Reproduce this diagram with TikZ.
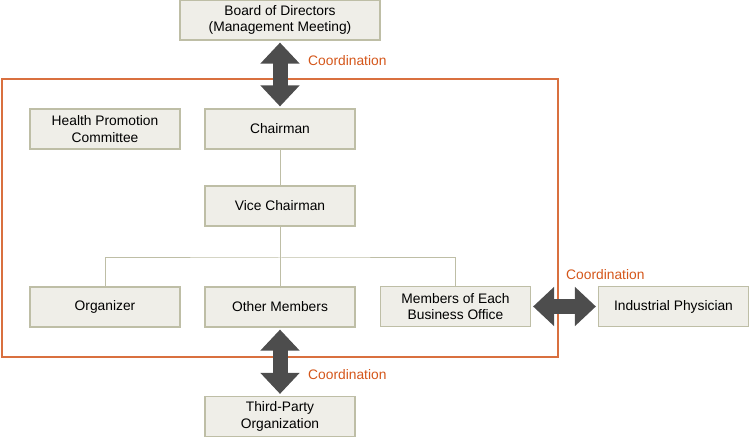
\documentclass[tikz,border=0pt]{standalone}
\usepackage{fontspec}
\setmainfont{Liberation Sans}
\usetikzlibrary{arrows.meta}
\definecolor{boxfill}{HTML}{EFEEE8}
\definecolor{boxline}{HTML}{BEBEA6}
\definecolor{frameorange}{HTML}{D9703F}
\definecolor{textorange}{HTML}{D4561A}
\definecolor{arrowgray}{HTML}{4D4D4D}
\begin{document}
\begin{tikzpicture}[x=1pt, y=-1pt,
        every node/.style={font=\fontsize{13.8}{16.5}\selectfont},
        box/.style={draw=boxline, fill=boxfill, line width=1.2pt, align=center,
            minimum width=150pt, minimum height=40pt, inner sep=0pt},
        treeline/.style={boxline, line width=1pt},
        coordarrow/.style={arrowgray, line width=15pt,
            {Triangle[width=38pt, length=21pt]}-{Triangle[width=38pt, length=21pt]},
            shorten >=2pt, shorten <=2pt},
        coordlabel/.style={textorange, anchor=west, inner sep=0pt}]
        \useasboundingbox (0,0) rectangle (750,438);
        \draw[frameorange, line width=1.2pt] (2,79) rectangle (558,357);
        \node[box, minimum width=200pt] (board) at (280,20) {Board of Directors\\(Management Meeting)};
        \foreach \nm/\x/\y/\lab in {health/105/129/{Health Promotion\\Committee},
                chair/280/129/Chairman, vice/280/206/Vice Chairman,
                org/105/307/Organizer, other/280/307/Other Members,
                office/455.5/306.5/{Members of Each\\Business Office},
                phys/673.5/306.5/Industrial Physician,
                third/280/416.5/{Third-Party\\Organization}}
            \node[box] (\nm) at (\x,\y) {\lab};
        % tree
        \coordinate (bus) at (280,258);
        \draw[treeline] (chair.south) -- (vice.north);
        \draw[treeline] (vice.south) -- (other.north);
        \draw[treeline] (org.north) |- (bus) -| (office.north);
        % coordination
        \draw[coordarrow] (board.south) -- (chair.north);
        \draw[coordarrow] (office.east) -- (phys.west);
        \draw[coordarrow] (other.south) -- (third.north);
        \node[coordlabel] (ctop) at (308,61) {Coordination};
        \node[coordlabel] (cright) at (566,275) {Coordination};
        \node[coordlabel] (cbottom) at (308,375) {Coordination};
\end{tikzpicture}
\end{document}
